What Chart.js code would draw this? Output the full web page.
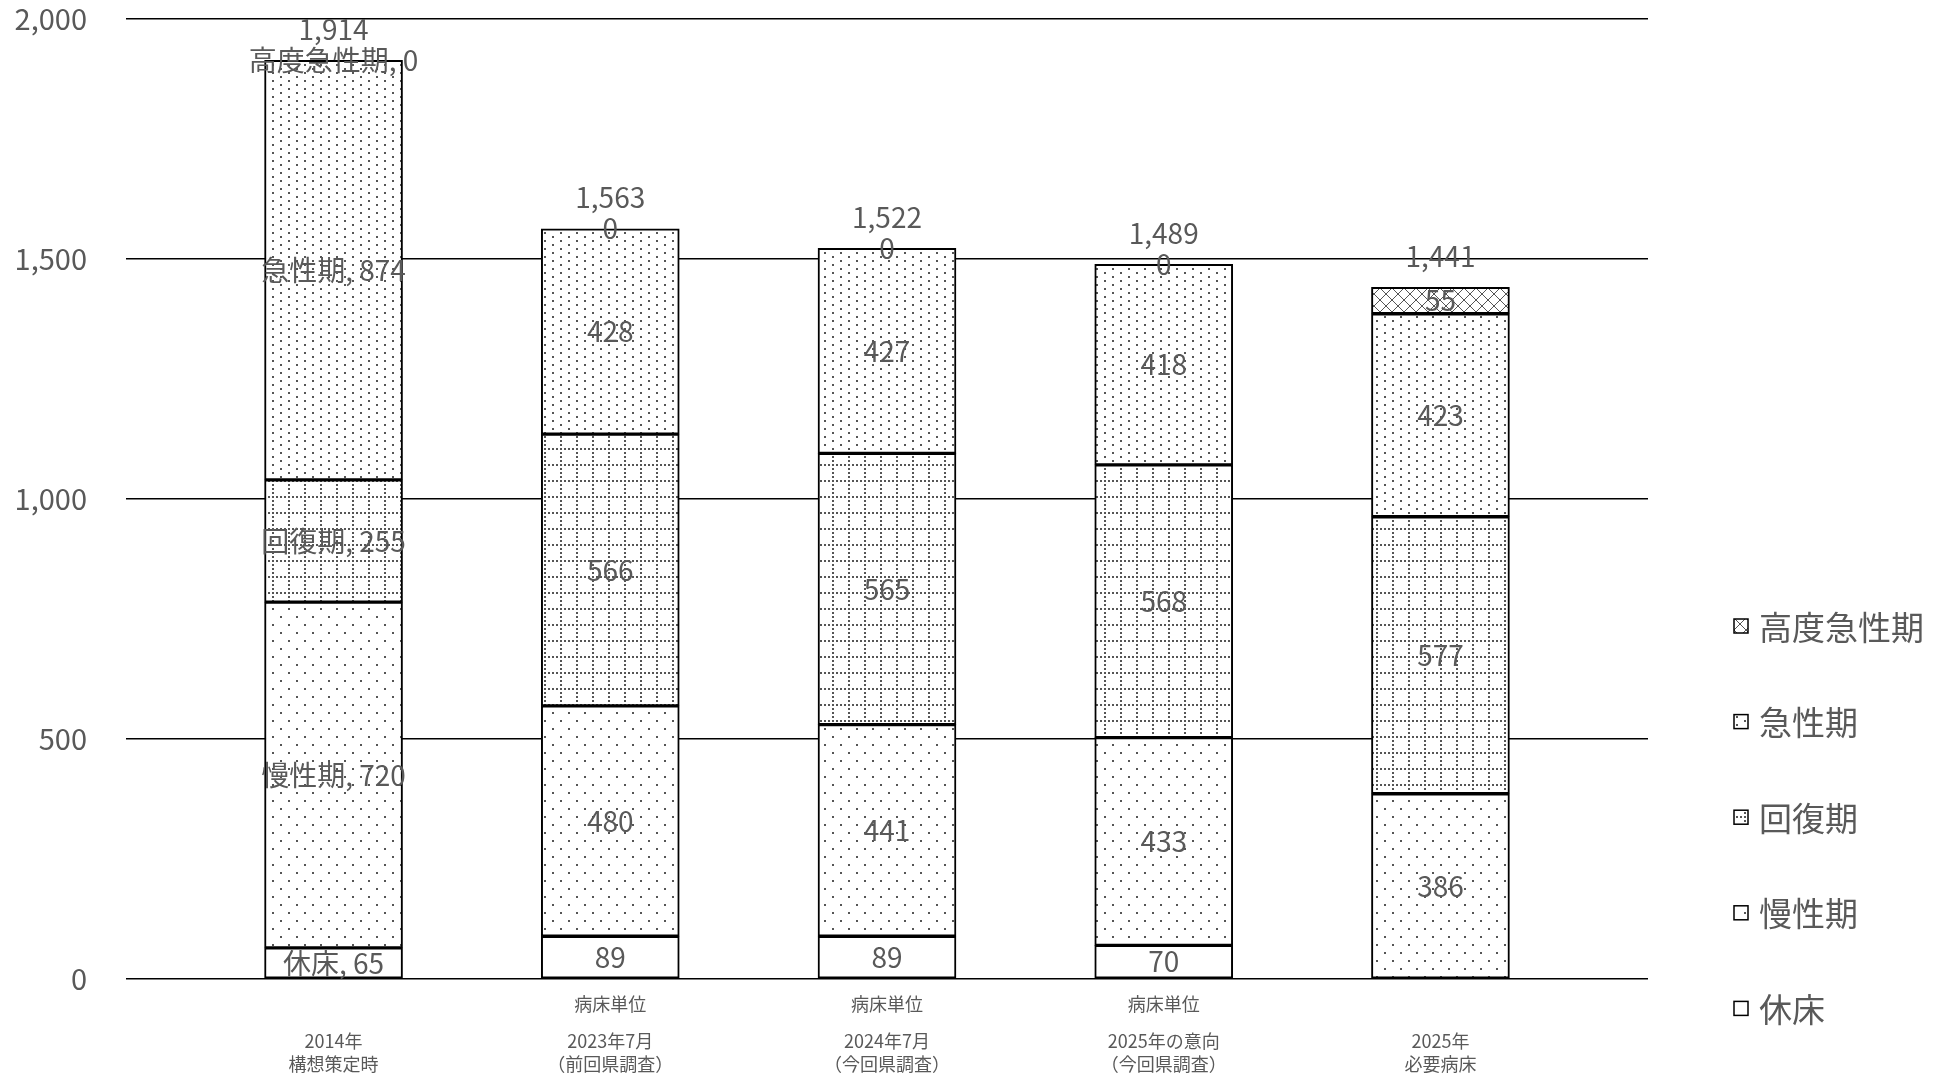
<!DOCTYPE html>
<html lang="ja">
<head>
<meta charset="utf-8">
<script src="https://cdn.jsdelivr.net/npm/chart.js@4.4.1/dist/chart.umd.min.js"></script>
<style>
  html, body { margin: 0; padding: 0; background: #fff; overflow: hidden; }
  #wrap { width: 1950px; height: 1076px; }
</style>
</head>
<body>
<div id="wrap"><canvas id="chart"></canvas></div>
<script>
// categories (x tick labels, two lines each)
const categories = [
    ["2014年", "構想策定時"],
    ["2023年7月", "（前回県調査）"],
    ["2024年7月", "（今回県調査）"],
    ["2025年の意向", "（今回県調査）"],
    ["2025年", "必要病床"]
];
// small note above the tick labels
const unitNotes = ["", "病床単位", "病床単位", "病床単位", ""];

const seriesNames = ["休床", "慢性期", "回復期", "急性期", "高度急性期"];

// series values, bottom of the stack first
const kyusho = [65, 89, 89, 70, null];
const mansei = [720, 480, 441, 433, 386];
const kaifuku = [255, 566, 565, 568, 577];
const kyusei = [874, 428, 427, 418, 423];
const kodo = [0, 0, 0, 0, 55];

const yTicks = [0, 500, 1000, 1500, 2000];

const series = [kyusho, mansei, kaifuku, kyusei, kodo];

const FONT = '"Noto Sans CJK JP", "Noto Sans", sans-serif';
const TEXT = '#595959';

Chart.defaults.font.family = FONT;
Chart.defaults.color = TEXT;

const canvas = document.getElementById("chart");
const ctx = canvas.getContext("2d");

// small tiled patterns for the bar fills
function makePattern(w, h, draw) {
    const c = document.createElement("canvas");
    c.width = w;
    c.height = h;
    const g = c.getContext("2d");
    g.fillStyle = "#fff";
    g.fillRect(0, 0, w, h);
    g.fillStyle = "#555";
    g.strokeStyle = "#555";
    draw(g);
    return ctx.createPattern(c, "repeat");
}

const fills = [
    "#ffffff",
    // sparse staggered dots
    makePattern(16, 16, g => {
        g.fillRect(0, 0, 2, 2);
        g.fillRect(8, 8, 2, 2);
    }),
    // dotted grid
    makePattern(16, 16, g => {
        for (let k = 0; k < 16; k += 4) {
            g.fillRect(k, 0, 2, 2);
            g.fillRect(0, k, 2, 2);
        }
    }),
    // dense staggered dots
    makePattern(16, 8, g => {
        g.fillRect(0, 0, 2, 2);
        g.fillRect(8, 4, 2, 2);
    }),
    // diagonal cross hatch
    makePattern(12, 12, g => {
        g.lineWidth = 1;
        g.beginPath();
        g.moveTo(-1, -1); g.lineTo(13, 13);
        g.moveTo(13, -1); g.lineTo(-1, 13);
        g.stroke();
    })
];

function fmt(v) {
    return v.toLocaleString("en-US");
}

const segmentLabels = {
    id: "segmentLabels",
    afterDatasetsDraw(chart) {
        const { ctx, chartArea, scales: { x, y } } = chart;
        ctx.save();
        ctx.font = "28px " + FONT;
        ctx.fillStyle = TEXT;
        ctx.textAlign = "center";
        ctx.textBaseline = "middle";
        chart.data.datasets.forEach((ds, di) => {
            const meta = chart.getDatasetMeta(di);
            meta.data.forEach((bar, i) => {
                const v = series[di][i];
                if (v === null) return;
                const txt = i === 0 ? seriesNames[di] + ", " + fmt(v) : fmt(v);
                ctx.fillText(txt, bar.x, (bar.y + bar.base) / 2);
            });
        });
        // totals above each stack
        categories.forEach((c, i) => {
            const total = series.reduce((s, arr) => s + (arr[i] || 0), 0);
            ctx.fillText(fmt(total), x.getPixelForValue(i), y.getPixelForValue(total) - 31);
        });
        // unit notes under the axis
        ctx.font = "18px " + FONT;
        unitNotes.forEach((t, i) => {
            if (t) ctx.fillText(t, x.getPixelForValue(i), chartArea.bottom + 25);
        });
        ctx.restore();
    }
};

const sideLegend = {
    id: "sideLegend",
    afterDraw(chart) {
        const { ctx, chartArea } = chart;
        const x0 = chartArea.right + 86;
        ctx.save();
        ctx.font = "33px " + FONT;
        ctx.textAlign = "left";
        ctx.textBaseline = "middle";
        let row = 0;
        for (let k = seriesNames.length - 1; k >= 0; k--) {
            const yc = 626 + row * 95.6;
            ctx.fillStyle = fills[k];
            ctx.fillRect(x0, yc - 7, 14, 14);
            ctx.strokeStyle = "#000";
            ctx.lineWidth = 1.5;
            ctx.strokeRect(x0, yc - 7, 14, 14);
            ctx.fillStyle = TEXT;
            ctx.fillText(seriesNames[k], x0 + 25, yc + 1);
            row++;
        }
        ctx.restore();
    }
};

new Chart(ctx, {
    type: "bar",
    data: {
        datasets: series.map((arr, k) => ({
            label: seriesNames[k],
            data: arr.map((v, i) => ({ x: i, y: v })),
            backgroundColor: fills[k],
            borderColor: "#000",
            borderWidth: 2,
            borderSkipped: false,
            barThickness: 138
        }))
    },
    options: {
        responsive: true,
        maintainAspectRatio: false,
        animation: false,
        layout: { padding: { left: 0, right: 302, top: 19, bottom: 0 } },
        plugins: {
            legend: { display: false },
            tooltip: { enabled: false }
        },
        scales: {
            x: {
                type: "linear",
                stacked: true,
                offset: false,
                min: -0.75,
                max: 4.75,
                afterBuildTicks(scale) {
                    scale.ticks = categories.map((c, i) => ({ value: i }));
                },
                afterFit(scale) {
                    scale.height = 97;
                    scale.paddingLeft = 0;
                    scale.paddingRight = 0;
                },
                grid: { display: false, drawTicks: false },
                border: { display: false },
                ticks: {
                    autoSkip: false,
                    maxRotation: 0,
                    padding: 50,
                    color: TEXT,
                    font: { size: 18, lineHeight: 1.3 },
                    callback: v => categories[v]
                }
            },
            y: {
                stacked: true,
                min: 0,
                max: 2000,
                afterBuildTicks(scale) {
                    scale.ticks = yTicks.map(v => ({ value: v }));
                },
                afterFit(scale) {
                    scale.width = 126;
                    scale.paddingTop = 0;
                    scale.paddingBottom = 0;
                },
                grid: { color: "#000", lineWidth: 1.5, drawTicks: false },
                border: { display: false },
                ticks: {
                    padding: 39,
                    color: TEXT,
                    font: { size: 29 },
                    callback: v => fmt(v)
                }
            }
        }
    },
    plugins: [segmentLabels, sideLegend]
});
</script>
</body>
</html>
